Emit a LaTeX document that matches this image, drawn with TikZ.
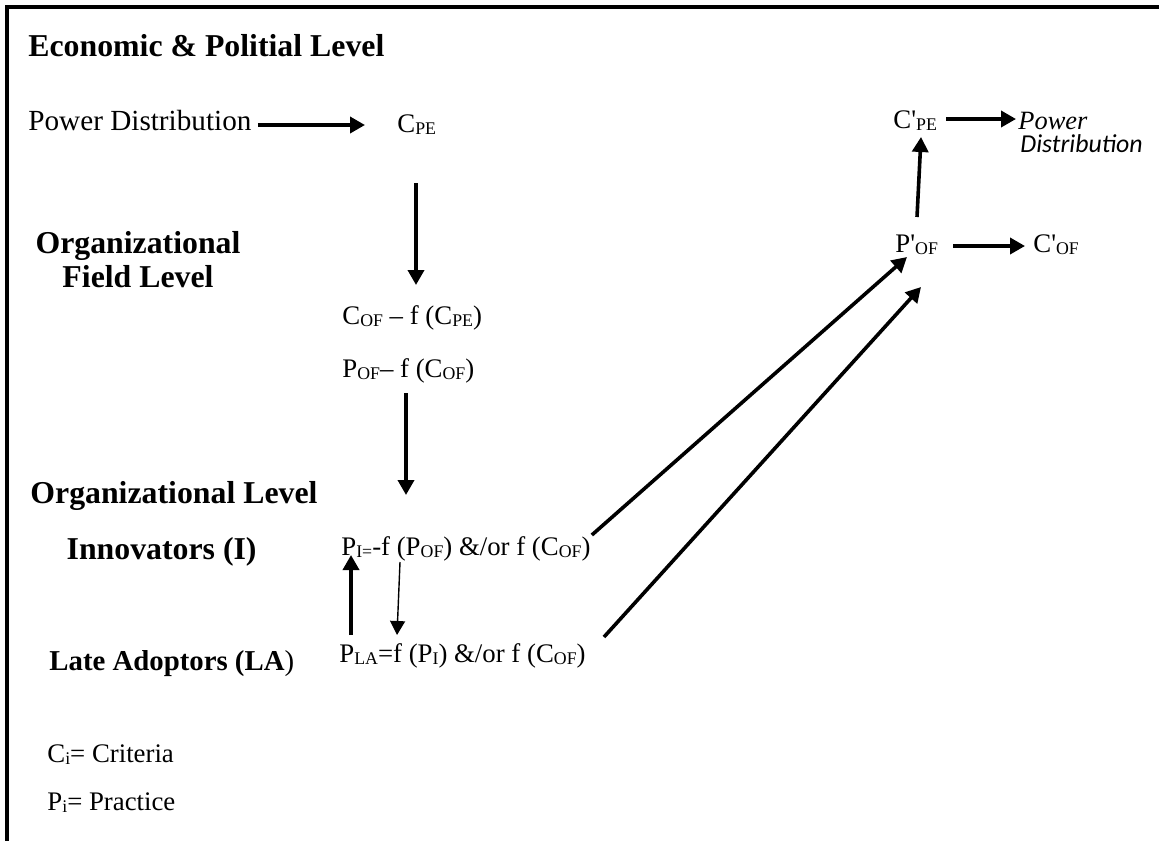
\documentclass[tikz,border=0pt]{standalone}
\usepackage{fontspec}
\usepackage{graphicx}
\setmainfont{Liberation Serif}[Ligatures=TeXOff]
\newfontfamily\calibrifont{Carlito}
\usetikzlibrary{arrows.meta}

% text sizes
\newcommand\txt{\fontsize{13.4}{16}\selectfont}
\newcommand\bigtxt{\fontsize{14.6}{17}\selectfont}
\newcommand\hd{\fontsize{15.9}{19}\selectfont\bfseries}
% lowered, reduced subscript
\newcommand\lo[1]{{\fontsize{8.9}{10}\selectfont\raisebox{-1.4pt}{#1}}}

\begin{document}
\begin{tikzpicture}[x=0.5pt,y=-0.5pt,
  lbl/.style={anchor=base west,inner sep=0pt,font=\txt},
  head/.style={inner sep=0pt,font=\hd},
  arr/.style={-{Triangle[length=7.5pt,width=8pt]},line width=1.8pt},
  thinarr/.style={-{Triangle[length=7pt,width=7.5pt]},line width=0.7pt},
  frame/.style={line width=2pt}]
\useasboundingbox (0,0) rectangle (1159,841);

% frame: top and left rules
\draw[frame] (5,7) -- (1159,7);
\draw[frame] (7,5) -- (7,841);

% level headings
\node[head,anchor=base west] (econ) at (28,56) {Economic \& Politial Level};
\node[head,anchor=base] (orgf1) at (138,253) {Organizational};
\node[head,anchor=base] (orgf2) at (138,287) {Field Level};
\node[head,anchor=base west] (orgl) at (30,503) {Organizational Level};
\node[head,anchor=base east] (innov) at (257,559) {Innovators (I)};
\node[head,anchor=base west,font=\fontsize{14.4}{17}\selectfont] (late) at (49,670)
  {\textbf{Late Adoptors (LA}\/)};

% left column of relations
\node[lbl,font=\bigtxt] (pd) at (28,130) {Power Distribution};
\node[lbl] (cpe) at (397,132) {C\lo{PE}};
\node[lbl] (cof) at (342,324) {C\lo{OF} – f (C\lo{PE})};
\node[lbl] (pof) at (342,377) {P\lo{OF}– f (C\lo{OF})};
\node[lbl] (pi) at (341,555) {P\lo{I=}-f (P\lo{OF}) \&/or f (C\lo{OF})};
\node[lbl] (pla) at (339,662) {P\lo{LA}=f (P\lo{I}) \&/or f (C\lo{OF})};

% right column of relations
\node[lbl] (cpe2) at (893,128) {C'\lo{PE}};
\node[lbl] (pof2) at (895,252) {P'\lo{OF}};
\node[lbl] (cof2) at (1033,252) {C'\lo{OF}};
\node[lbl,font=\fontsize{13.2}{16}\selectfont\itshape] (pow) at (1018,129) {Power};
\node[lbl,font=\fontsize{12.9}{16}\selectfont\calibrifont\itshape] (dist) at (1020,152) {Distribution};

% legend
\node[lbl] (lc) at (47,762) {C\lo{i}= Criteria};
\node[lbl] (lp) at (47,810) {P\lo{i}= Practice};

% connectors
\draw[arr] ([shift={(6,-5)}]pd.base east) -- ([shift={(-32,-7)}]cpe.base west);
\draw[arr] ([shift={(19,51)}]cpe.base west) -- ([shift={(74,-39)}]cof.base west);
\draw[arr] ([shift={(64,16)}]pof.base west) -- ([shift={(65,-60)}]pi.base west);
\draw[arr] ([shift={(12,-27)}]pla.base west) -- ([shift={(10,0)}]pi.base west);
\draw[thinarr] ([shift={(59,7)}]pi.base west) -- ([shift={(58,-27)}]pla.base west);
\draw[arr] ([shift={(1,-20)}]pi.base east) -- ([shift={(12,5)}]pof2.base west);
\draw[arr] ([shift={(18,-25)}]pla.base east) -- ([shift={(26,35)}]pof2.base west);
\draw[arr] ([shift={(22,-35)}]pof2.base west) -- ([shift={(28,9)}]cpe2.base west);
\draw[arr] ([shift={(15,-6)}]pof2.base east) -- ([shift={(-8,-6)}]cof2.base west);
\draw[arr] ([shift={(9,-9)}]cpe2.base east) -- ([shift={(-2,-10)}]pow.base west);
\end{tikzpicture}
\end{document}
